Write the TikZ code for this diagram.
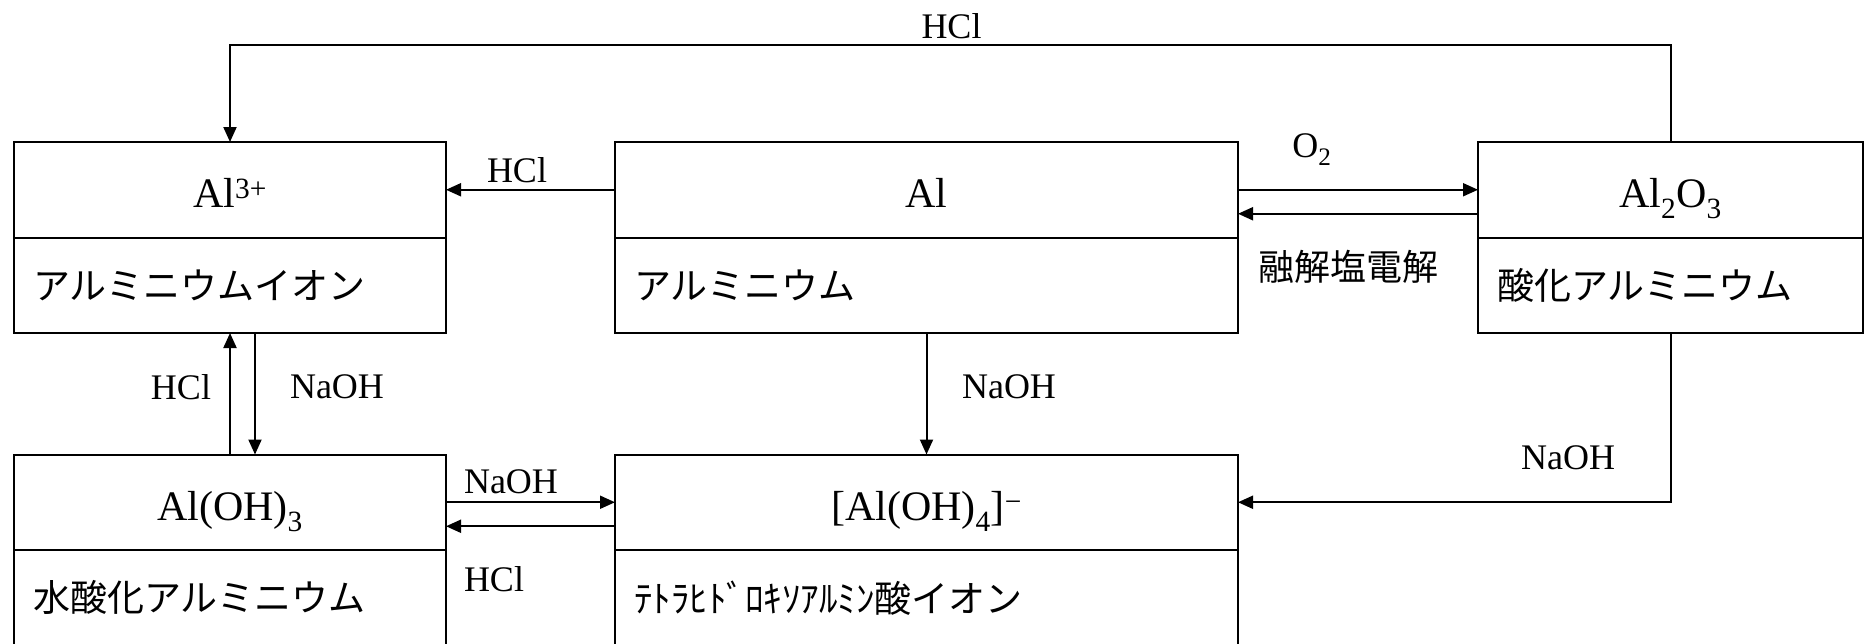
\documentclass[tikz,border=0pt]{standalone}
\usepackage{fontspec}
\setmainfont{Liberation Serif}
\newfontfamily\jp{Noto Sans CJK JP}
\usetikzlibrary{arrows.meta}
\begin{document}
\begin{tikzpicture}[x=1pt,y=-1pt,
  part/.style={draw, line width=2pt, inner sep=0pt, outer sep=0pt},
  formula/.style={part, minimum height=95.5pt, text height=36pt, text depth=0pt, font=\fontsize{42}{50}\selectfont},
  jname/.style={part, minimum height=95.5pt, inner xsep=19pt, align=left, font=\jp\fontsize{37}{44}\selectfont},
  lbl/.style={inner sep=0pt, font=\fontsize{36}{43}\selectfont},
  arr/.style={line width=2pt, -{Triangle[length=15pt,width=13pt]}}]
\useasboundingbox (0,0) rectangle (1865,643);
% boxes
\node[formula, minimum width=432pt] (al3) at (230,189.75) {Al\textsuperscript{3+}};
\node[jname, text width=394pt] (al3n) at (230,285.25) {アルミニウムイオン};
\node[formula, minimum width=623pt] (al) at (926.5,189.75) {Al};
\node[jname, text width=585pt] (aln) at (926.5,285.25) {アルミニウム};
\node[formula, minimum width=385pt] (alo) at (1670.5,189.75) {Al\textsubscript{2}O\textsubscript{3}};
\node[jname, text width=347pt] (alon) at (1670.5,285.25) {酸化アルミニウム};
\node[formula, minimum width=432pt] (aoh) at (230,502.25) {Al(OH)\textsubscript{3}};
\node[jname, text width=394pt] (aohn) at (230,597.75) {水酸化アルミニウム};
\node[formula, minimum width=623pt] (aoh4) at (926.5,502.25) {[Al(OH)\textsubscript{4}]\textsuperscript{−}};
\node[jname, text width=585pt] (aoh4n) at (926.5,597.75) {ﾃﾄﾗﾋﾄﾞﾛｷｿｱﾙﾐﾝ酸イオン};
% connectors
\coordinate (topy) at (0,45);
\draw[arr] (alo.north) -- (alo.north |- topy) -| (al3.north);
\draw[arr] (al.west) -- (al3.east);
\draw[arr] (al.east) -- (alo.west);
\draw[arr] ([yshift=-24pt]alo.west) -- ([yshift=-24pt]al.east);
\draw[arr] (aoh.north) -- (al3n.south);
\draw[arr] ([xshift=25pt]al3n.south) -- ([xshift=25pt]aoh.north);
\draw[arr] (aln.south) -- (aoh4.north);
\draw[arr] (aoh.east) -- (aoh4.west);
\draw[arr] ([yshift=-24pt]aoh4.west) -- ([yshift=-24pt]aoh.east);
\draw[arr] (alon.south) |- (aoh4.east);
% labels
\node[lbl] (l1) at (951.5,26) {HCl};
\node[lbl] (l2) at (517,170) {HCl};
\node[lbl] (l3) at (1312,150) {O\textsubscript{2}};
\node[lbl, font=\jp\fontsize{36}{43}\selectfont] (l4) at (1348,267) {融解塩電解};
\node[lbl] (l5) at (181,387) {HCl};
\node[lbl] (l6) at (337,387) {NaOH};
\node[lbl] (l7) at (1009,387) {NaOH};
\node[lbl] (l8) at (511,482) {NaOH};
\node[lbl] (l9) at (494,579) {HCl};
\node[lbl] (l10) at (1568,458) {NaOH};
\end{tikzpicture}
\end{document}
